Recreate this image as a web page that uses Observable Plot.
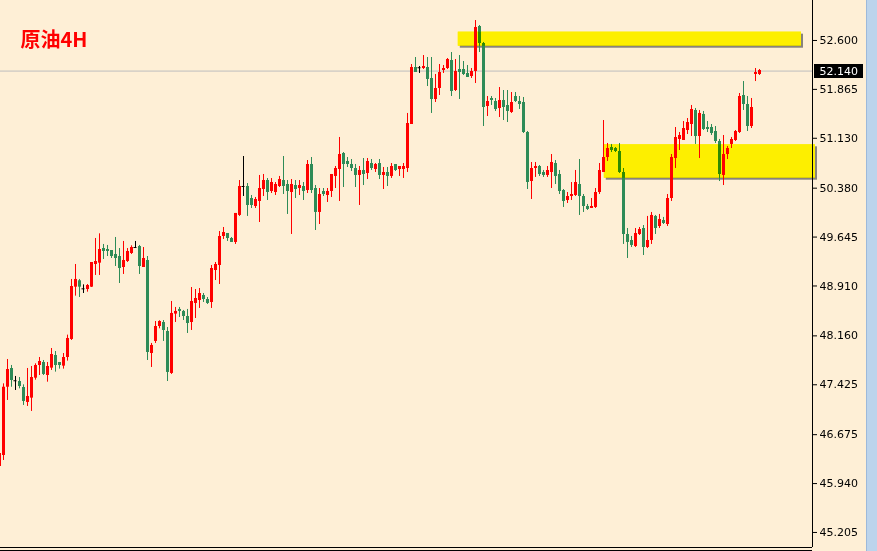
<!DOCTYPE html>
<html><head><meta charset="utf-8">
<script src="https://cdn.jsdelivr.net/npm/d3@7"></script>
<script src="https://cdn.jsdelivr.net/npm/@observablehq/plot@0.6"></script>
<style>
html,body{margin:0;padding:0;background:#FEEFD6;}
#chart{position:relative;width:877px;height:551px;overflow:hidden;}
</style></head><body><div id="chart"></div>
<script>
const title = "原油4H";
const firstK = -1;
const open = [
46.197,
46.362,47.388,47.670,47.485,47.474,47.384,47.159,47.224,47.524,47.715,
47.760,47.564,47.675,47.865,47.760,47.705,47.835,48.106,48.892,48.988,
48.867,48.857,48.892,49.233,49.253,49.473,49.458,49.443,49.383,49.353,
49.188,49.278,49.398,49.488,49.503,49.188,49.293,47.895,48.076,48.301,
48.361,48.226,47.595,48.487,48.557,48.527,48.451,48.361,48.647,48.692,
48.767,48.707,48.662,49.143,49.218,49.654,49.699,49.624,49.564,49.970,
50.405,50.405,50.225,50.105,50.180,50.360,50.495,50.330,50.315,50.405,
50.495,50.435,50.315,50.420,50.375,50.405,50.345,50.736,50.375,50.015,
50.330,50.270,50.330,50.556,50.661,50.901,50.781,50.736,50.676,50.571,
50.646,50.601,50.751,50.661,50.751,50.571,50.616,50.556,50.736,50.661,
50.661,50.676,51.337,52.194,52.190,52.179,52.194,52.029,51.713,51.878,
52.149,52.179,52.299,51.848,52.164,52.164,52.104,52.059,52.134,52.810,
52.555,51.608,51.728,51.683,51.578,51.698,51.623,51.518,51.758,51.683,
51.668,51.217,50.480,50.676,50.706,50.616,50.571,50.616,50.751,50.586,
50.345,50.195,50.255,50.270,50.435,50.255,50.105,50.075,50.090,50.315,
50.616,50.841,50.991,50.976,50.931,50.616,49.684,49.594,49.503,49.684,
49.774,49.488,49.594,49.955,49.804,49.894,49.834,50.225,50.826,51.112,
51.097,51.247,51.337,51.548,51.157,51.488,51.292,51.292,51.232,51.082,
50.571,50.886,51.037,51.097,51.217,51.773,51.638,51.307,52.089,52.089];
const close = [
46.392,
47.388,47.655,47.489,47.485,47.399,47.174,47.249,47.534,47.715,47.775,
47.580,47.700,47.880,47.715,47.715,47.835,48.121,48.902,49.008,48.892,
48.867,48.917,49.263,49.278,49.458,49.428,49.428,49.353,49.323,49.173,
49.293,49.428,49.488,49.488,49.203,49.323,47.910,48.016,48.301,48.376,
48.241,47.610,48.497,48.527,48.527,48.451,48.346,48.677,48.722,48.797,
48.707,48.647,49.173,49.233,49.654,49.714,49.624,49.564,50.000,50.405,
50.405,50.120,50.120,50.210,50.375,50.495,50.315,50.465,50.435,50.510,
50.405,50.330,50.435,50.360,50.420,50.330,50.736,50.345,50.015,50.285,
50.285,50.330,50.586,50.676,50.886,50.736,50.736,50.676,50.571,50.646,
50.586,50.781,50.676,50.736,50.571,50.616,50.556,50.706,50.646,50.706,
50.706,51.352,52.194,52.119,52.190,52.209,52.014,51.713,51.878,52.119,
52.179,52.314,51.833,52.134,52.119,52.089,52.044,52.134,52.795,52.555,
51.593,51.683,51.698,51.563,51.698,51.593,51.533,51.668,51.683,51.638,
51.217,50.465,50.676,50.706,50.586,50.571,50.646,50.766,50.556,50.330,
50.180,50.255,50.285,50.465,50.255,50.105,50.060,50.105,50.315,50.646,
50.841,50.976,50.946,50.931,50.616,49.684,49.564,49.519,49.699,49.759,
49.488,49.594,49.970,49.774,49.909,49.849,50.225,50.841,51.142,51.172,
51.277,51.367,51.563,51.157,51.503,51.262,51.262,51.202,51.082,50.586,
50.886,50.976,51.112,51.232,51.758,51.638,51.307,51.593,52.119,52.149];
const high = [
46.422,
47.439,47.805,47.715,47.550,47.534,47.424,47.670,47.700,47.740,47.835,
47.790,47.760,47.970,47.925,47.760,47.895,48.171,49.008,49.233,49.008,
48.927,48.932,49.263,49.624,49.694,49.534,49.519,49.443,49.639,49.473,
49.579,49.473,49.514,49.579,49.519,49.488,49.353,48.046,48.376,48.387,
48.391,48.286,48.677,48.587,48.587,48.542,48.557,48.887,48.857,48.872,
48.797,48.737,49.218,49.263,49.729,49.789,49.699,49.639,50.000,50.495,
50.856,50.450,50.270,50.240,50.571,50.586,50.525,50.525,50.465,50.556,
50.856,50.495,50.510,50.495,50.495,50.465,50.796,50.841,50.420,50.375,
50.375,50.375,50.586,50.706,51.142,50.916,50.841,50.811,50.736,50.706,
50.826,50.826,50.811,50.751,50.811,50.691,50.691,50.751,50.736,50.706,
50.751,51.503,52.239,52.344,52.209,52.374,52.344,52.344,52.089,52.239,
52.224,52.329,52.419,52.314,52.374,52.284,52.224,52.179,52.900,52.825,
52.570,51.758,51.758,51.728,51.893,51.848,51.848,51.818,51.818,51.758,
51.743,51.232,50.766,50.766,50.721,50.646,50.706,50.886,50.796,50.646,
50.360,50.315,50.465,50.646,50.811,50.285,50.135,50.225,50.375,50.751,
51.397,51.052,51.037,50.991,51.052,50.676,49.774,49.654,49.774,49.789,
49.819,49.955,50.015,49.970,49.985,49.940,50.285,50.886,51.292,51.217,
51.382,51.427,51.623,51.578,51.548,51.533,51.382,51.337,51.307,51.112,
51.172,51.007,51.142,51.247,51.803,51.983,51.758,51.728,52.179,52.164];
const low = [
46.167,
46.287,47.189,47.388,47.339,47.364,47.114,47.099,47.024,47.494,47.564,
47.564,47.464,47.640,47.615,47.660,47.660,47.780,48.091,48.757,48.737,
48.797,48.817,48.887,49.068,49.068,49.308,49.353,49.323,49.203,48.947,
49.083,49.263,49.383,49.473,49.083,49.188,47.790,47.685,48.046,48.266,
48.076,47.474,47.580,48.361,48.436,48.391,48.196,48.241,48.421,48.572,
48.662,48.632,48.572,48.992,48.932,49.609,49.579,49.564,49.534,49.955,
50.255,49.955,50.075,50.075,49.864,50.255,50.195,50.300,50.270,50.390,
50.285,49.985,49.684,50.225,50.270,50.195,50.300,50.300,49.744,49.834,
50.255,50.165,50.240,50.375,50.180,50.390,50.691,50.631,50.390,50.120,
50.420,50.510,50.646,50.616,50.510,50.360,50.405,50.526,50.631,50.556,
50.526,50.616,51.337,52.119,52.104,52.164,51.908,51.503,51.668,51.773,
52.104,52.164,51.758,51.833,51.713,52.074,52.044,52.029,51.953,52.419,
51.307,51.457,51.623,51.533,51.442,51.397,51.367,51.503,51.668,51.563,
51.202,50.360,50.210,50.541,50.556,50.541,50.541,50.375,50.435,50.285,
50.090,50.150,50.195,50.255,49.970,50.015,50.045,50.075,50.075,50.285,
50.616,50.781,50.916,50.916,50.601,49.534,49.323,49.488,49.488,49.669,
49.368,49.473,49.534,49.684,49.774,49.834,49.804,50.180,50.676,50.946,
51.097,51.187,51.157,51.037,50.826,51.247,51.217,51.172,51.052,50.480,
50.420,50.811,50.976,51.082,51.202,51.548,51.232,51.277,51.983,52.074];
const yTicks = [52.600, 51.865, 51.130, 50.380, 49.645, 48.910, 48.160, 47.425, 46.675, 45.940, 45.205];
const lastPrice = 52.140;
const zoneStart = [113.7, 150.2];
const zoneEnd = [199.5, 203.0];
const zoneLow = [52.514, 50.530];
const zoneHigh = [52.725, 51.032];

const zones = zoneStart.map((s, i) => ({k1: s, k2: zoneEnd[i], p1: zoneLow[i], p2: zoneHigh[i]}));
const candles = open.map((o, j) => ({k: j + firstK, open: o, high: high[j], low: low[j], close: close[j]}));
const color = d => d.close > d.open ? "#FF0000" : d.close < d.open ? "#2E8B57" : "#000000";
const bodies = candles.filter(d => d.close !== d.open);
const dojis = candles.filter(d => d.close === d.open);
const fmt = d3.format(".3f");
const xMax = 202.25, yMin = 44.979;

const plot = Plot.plot({
  width: 877, height: 551,
  marginLeft: 0, marginTop: 0, marginRight: 65, marginBottom: 4,
  style: {background: "#FEEFD6", fontFamily: "DejaVu Sans", fontSize: "11px", color: "#000", overflow: "visible"},
  x: {domain: [-0.75, xMax], axis: null},
  y: {domain: [yMin, 53.201], ticks: yTicks, tickFormat: fmt, axis: "right", tickSize: 4, tickPadding: 3, label: null},
  marks: [
    Plot.ruleY([lastPrice], {stroke: "#BDBDBD"}),
    Plot.rect(zones, {x1: "k1", x2: "k2", y1: "p1", y2: "p2", fill: "#555", fillOpacity: 0.7, dx: 2, dy: 2, ariaLabel: "zone-shadow"}),
    Plot.rect(zones, {x1: "k1", x2: "k2", y1: "p1", y2: "p2", fill: "#FDEF00"}),
    Plot.ruleX(candles, {x: "k", y1: "low", y2: "high", stroke: color}),
    Plot.ruleX(bodies, {x: "k", y1: "open", y2: "close", stroke: color, strokeWidth: 3}),
    Plot.ruleY(dojis, {y: "open", x1: d => d.k - 0.375, x2: d => d.k + 0.375, stroke: "#000"}),
    Plot.rect(zones, {x1: "k1", x2: "k2", y1: "p1", y2: "p2", fill: "#FFFF00", mixBlendMode: "multiply"}),
    Plot.ruleX([xMax], {stroke: "#000"}),
    Plot.ruleY([yMin], {stroke: "#000", x1: -0.75, x2: xMax}),
    Plot.ruleY([yMin], {stroke: "#000", x1: -0.75, x2: xMax, dy: 3}),
    Plot.ruleY([lastPrice], {x1: 202.75, x2: 215, stroke: "#000", strokeWidth: 14}),
    Plot.text([lastPrice], {y: d => d, frameAnchor: "right", dx: 7, textAnchor: "start", fill: "#fff", text: d => fmt(d), fontSize: 11}),
    Plot.text([title], {frameAnchor: "top-left", dx: 20, dy: 40, text: d => d, textAnchor: "start", lineAnchor: "middle", fill: "#FF0000", fontSize: 20, fontWeight: "bold", fontFamily: "Noto Sans CJK SC"})
  ]
});
document.getElementById("chart").appendChild(plot);
const svg = d3.select(plot);
svg.select('g[aria-label="zone-shadow"]').style("filter", "blur(1.5px)");
svg.append("rect").attr("x", 866).attr("y", 0).attr("width", 11).attr("height", 551).attr("fill", "#BCD4EC");
svg.append("line").attr("x1", 866.5).attr("x2", 866.5).attr("y1", 0).attr("y2", 551).attr("stroke", "#9DB9DA");
</script></body></html>
